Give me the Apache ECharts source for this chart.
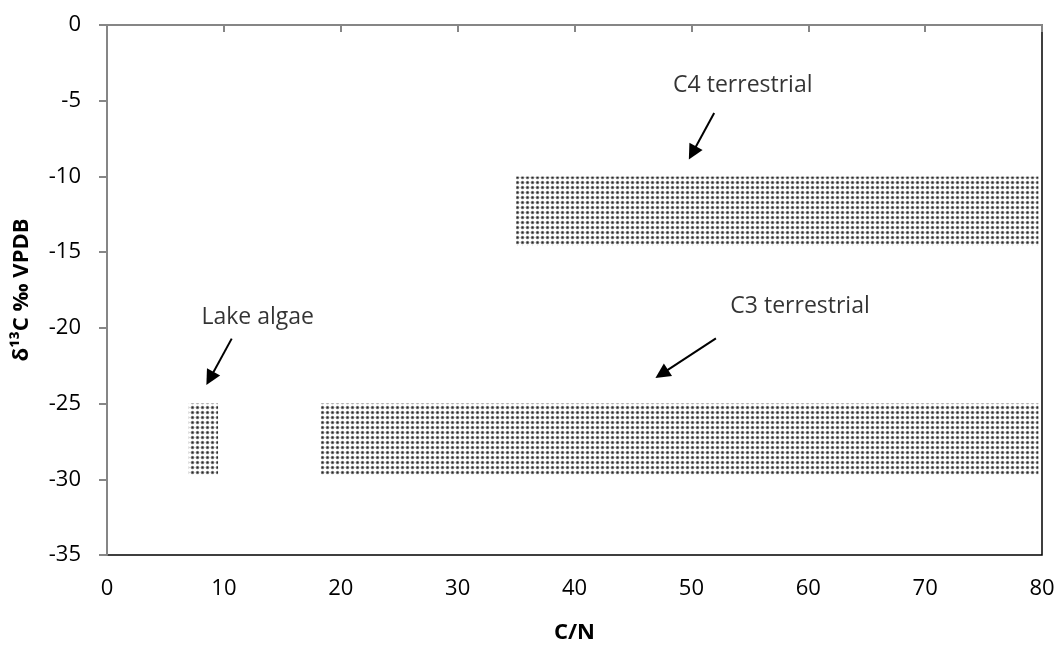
<!DOCTYPE html>
<html>
<head>
<meta charset="utf-8">
<script src="https://cdn.jsdelivr.net/npm/echarts@6/dist/echarts.min.js"></script>
<style>
  html, body { margin: 0; padding: 0; background: #fff; }
  #chart { width: 1059px; height: 649px; }
</style>
</head>
<body>
<div id="chart"></div>
<script>
// Source fields: [name, C/N from, C/N to, δ13C top, δ13C bottom]
const fieldNames = ['Lake algae', 'C3 terrestrial', 'C4 terrestrial'];
const cnFrom = [7, 18.3, 35];
const cnTo = [9.5, 79.7, 79.7];
const d13cTop = [-25, -25, -10];
const d13cBottom = [-29.7, -29.7, -14.6];

// Label anchors and arrows, in data units
const labelX = [12.9, 59.3, 54.4];
const labelY = [-19.3, -18.6, -4.0];
const arrowFrom = [[10.67, -20.71], [52.1, -20.69], [51.95, -5.81]];
const arrowTo = [[8.81, -23.34], [47.46, -23.04], [50.09, -8.45]];

const xTicks = { min: 0, max: 80, interval: 10 };
const yTicks = { min: -35, max: 0, interval: 5 };

const FONT = '"Open Sans", "Liberation Sans", sans-serif';

// Dotted fill tile
function dotTile() {
  const c = document.createElement('canvas');
  c.width = 5; c.height = 5;
  const g = c.getContext('2d');
  g.fillStyle = '#ffffff';
  g.fillRect(0, 0, 5, 5);
  g.fillStyle = '#8c8c8c';
  g.beginPath(); g.arc(2.5, 2.5, 1.85, 0, Math.PI * 2); g.fill();
  g.fillStyle = '#2a2a2a';
  g.beginPath(); g.arc(2.5, 2.5, 0.95, 0, Math.PI * 2); g.fill();
  return c;
}
const pattern = { image: dotTile(), repeat: 'repeat' };

const rects = fieldNames.map((n, i) => [cnFrom[i], cnTo[i], d13cTop[i], d13cBottom[i]]);
const labels = fieldNames.map((n, i) => ({ name: n, value: [labelX[i], labelY[i]] }));
const arrows = arrowFrom.map((p, i) => ({ coords: [p, arrowTo[i]] }));

const chart = echarts.init(document.getElementById('chart'), null, { renderer: 'canvas' });
chart.setOption({
  animation: false,
  backgroundColor: '#ffffff',
  grid: {
    left: 107, right: 17, top: 25, bottom: 86,
    show: true, borderColor: '#000000', borderWidth: 1.5
  },
  xAxis: {
    type: 'value', min: xTicks.min, max: xTicks.max, interval: xTicks.interval,
    name: 'C/N', nameLocation: 'middle', nameGap: 67,
    nameTextStyle: { fontFamily: FONT, fontSize: 22, fontWeight: 'bold', color: '#000' },
    axisLine: { show: true, lineStyle: { color: '#868686', width: 2 } },
    axisTick: { show: true, length: 7, inside: false, lineStyle: { color: '#868686', width: 2 } },
    axisLabel: { margin: 23, fontFamily: FONT, fontSize: 22, color: '#000' },
    splitLine: { show: false }
  },
  yAxis: {
    type: 'value', min: yTicks.min, max: yTicks.max, interval: yTicks.interval,
    name: 'δ¹³C ‰ VPDB', nameLocation: 'middle', nameGap: 74, nameRotate: 90,
    nameTextStyle: { fontFamily: FONT, fontSize: 22, fontWeight: 'bold', color: '#000' },
    axisLine: { show: true, onZero: false, lineStyle: { color: '#868686', width: 2 } },
    axisTick: { show: true, length: 8, inside: false, lineStyle: { color: '#868686', width: 2 } },
    axisLabel: { margin: 26, fontFamily: FONT, fontSize: 22, color: '#000' },
    splitLine: { show: false }
  },
  series: [
    {
      type: 'custom',
      data: rects,
      encode: { x: [0, 1], y: [2, 3] },
      renderItem: function (params, api) {
        const a = api.coord([api.value(0), api.value(2)]);
        const b = api.coord([api.value(1), api.value(3)]);
        return {
          type: 'rect',
          shape: { x: a[0], y: a[1], width: b[0] - a[0], height: b[1] - a[1] },
          style: { fill: pattern }
        };
      },
      z: 2
    },
    {
      type: 'lines',
      coordinateSystem: 'cartesian2d',
      data: arrows,
      symbol: ['none', 'triangle'],
      symbolSize: 15,
      lineStyle: { color: '#000', width: 2, opacity: 1 },
      itemStyle: { color: '#000' },
      z: 3
    },
    {
      type: 'scatter',
      data: labels,
      symbolSize: 0,
      label: {
        show: true, position: 'inside',
        formatter: p => p.name,
        fontFamily: FONT, fontSize: 23, color: '#000'
      },
      z: 4
    }
  ]
});
</script>
</body>
</html>
